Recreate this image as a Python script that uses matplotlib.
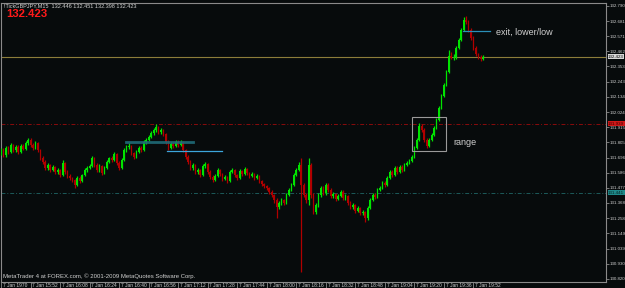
import matplotlib
matplotlib.use('Agg')
import matplotlib.pyplot as plt
from matplotlib.patches import Rectangle
import matplotlib.transforms as mtransforms
import numpy as np

plt.rcParams['font.family'] = ['Liberation Sans', 'DejaVu Sans']

# candles, one per index (open = previous close)
first_open = 131.729
closes = [
    131.751, 131.715, 131.765, 131.736, 131.787, 131.751, 131.772, 131.736, 131.780, 131.758,
    131.801, 131.823, 131.787, 131.765, 131.801, 131.751, 131.693, 131.664, 131.621, 131.643,
    131.606, 131.628, 131.592, 131.606, 131.570, 131.657, 131.592, 131.563, 131.549, 131.534,
    131.498, 131.549, 131.527, 131.570, 131.606, 131.621, 131.635, 131.693, 131.643, 131.606,
    131.635, 131.585, 131.621, 131.664, 131.693, 131.679, 131.722, 131.657, 131.621, 131.679,
    131.751, 131.772, 131.780, 131.729, 131.700, 131.736, 131.765, 131.751, 131.808, 131.823,
    131.845, 131.873, 131.895, 131.917, 131.881, 131.895, 131.866, 131.808, 131.765, 131.794,
    131.780, 131.808, 131.787, 131.808, 131.751, 131.700, 131.664, 131.621, 131.643, 131.592,
    131.606, 131.570, 131.635, 131.650, 131.592, 131.556, 131.534, 131.563, 131.606, 131.578,
    131.542, 131.556, 131.527, 131.592, 131.606, 131.570, 131.549, 131.599, 131.578, 131.614,
    131.585, 131.563, 131.578, 131.549, 131.563, 131.527, 131.505, 131.491, 131.477, 131.448,
    131.426, 131.390, 131.339, 131.368, 131.390, 131.368, 131.426, 131.462, 131.498, 131.570,
    131.606, 131.643, 131.498, 131.426, 131.390, 131.643, 131.426, 131.303, 131.354, 131.426,
    131.477, 131.441, 131.498, 131.462, 131.419, 131.433, 131.397, 131.419, 131.448, 131.404,
    131.419, 131.368, 131.339, 131.354, 131.311, 131.332, 131.296, 131.303, 131.260, 131.332,
    131.390, 131.426, 131.412, 131.462, 131.477, 131.513, 131.498, 131.549, 131.592, 131.570,
    131.621, 131.592, 131.628, 131.606, 131.643, 131.657, 131.671, 131.700, 131.765, 131.823,
    131.924, 131.895, 131.823, 131.780, 131.823, 131.859, 131.909, 131.967, 132.054, 132.140,
    132.220, 132.314, 132.429, 132.415, 132.422, 132.487, 132.544, 132.617, 132.689, 132.674,
    132.617, 132.559, 132.487, 132.443, 132.422, 132.407, 132.423]
highs = [
    131.765, 131.765, 131.780, 131.780, 131.801, 131.794, 131.787, 131.787, 131.794, 131.794,
    131.816, 131.837, 131.837, 131.801, 131.816, 131.808, 131.758, 131.707, 131.679, 131.657,
    131.650, 131.643, 131.635, 131.621, 131.614, 131.679, 131.664, 131.606, 131.578, 131.556,
    131.542, 131.563, 131.563, 131.578, 131.621, 131.635, 131.650, 131.707, 131.700, 131.657,
    131.650, 131.643, 131.635, 131.679, 131.700, 131.707, 131.736, 131.729, 131.671, 131.693,
    131.765, 131.787, 131.801, 131.787, 131.736, 131.751, 131.780, 131.780, 131.823, 131.837,
    131.859, 131.888, 131.909, 131.938, 131.924, 131.909, 131.902, 131.873, 131.823, 131.808,
    131.808, 131.823, 131.823, 131.823, 131.816, 131.758, 131.715, 131.679, 131.657, 131.650,
    131.621, 131.614, 131.650, 131.664, 131.657, 131.606, 131.570, 131.578, 131.621, 131.614,
    131.585, 131.570, 131.563, 131.606, 131.621, 131.614, 131.578, 131.614, 131.606, 131.628,
    131.621, 131.592, 131.592, 131.585, 131.578, 131.570, 131.534, 131.513, 131.498, 131.484,
    131.462, 131.433, 131.404, 131.383, 131.404, 131.397, 131.441, 131.477, 131.513, 131.585,
    131.621, 131.664, 131.693, 131.513, 131.441, 131.693, 131.657, 131.441, 131.368, 131.441,
    131.491, 131.491, 131.513, 131.513, 131.477, 131.448, 131.441, 131.433, 131.462, 131.462,
    131.433, 131.426, 131.383, 131.368, 131.361, 131.347, 131.339, 131.318, 131.311, 131.347,
    131.404, 131.441, 131.441, 131.477, 131.491, 131.527, 131.527, 131.563, 131.606, 131.606,
    131.635, 131.635, 131.643, 131.643, 131.657, 131.671, 131.686, 131.715, 131.780, 131.837,
    131.946, 131.938, 131.909, 131.837, 131.837, 131.873, 131.924, 131.982, 132.068, 132.155,
    132.234, 132.328, 132.472, 132.458, 132.443, 132.501, 132.559, 132.631, 132.710, 132.718,
    132.689, 132.631, 132.573, 132.501, 132.451, 132.436, 132.436]
lows = [
    131.715, 131.700, 131.700, 131.722, 131.729, 131.736, 131.736, 131.722, 131.729, 131.751,
    131.751, 131.787, 131.772, 131.751, 131.758, 131.736, 131.679, 131.650, 131.606, 131.606,
    131.592, 131.599, 131.578, 131.578, 131.556, 131.563, 131.578, 131.549, 131.534, 131.520,
    131.477, 131.491, 131.513, 131.520, 131.563, 131.592, 131.614, 131.628, 131.628, 131.592,
    131.592, 131.570, 131.578, 131.614, 131.657, 131.664, 131.671, 131.643, 131.606, 131.614,
    131.671, 131.736, 131.758, 131.715, 131.686, 131.693, 131.729, 131.736, 131.744, 131.794,
    131.816, 131.837, 131.859, 131.881, 131.866, 131.866, 131.852, 131.794, 131.751, 131.758,
    131.765, 131.772, 131.772, 131.780, 131.736, 131.686, 131.650, 131.606, 131.606, 131.578,
    131.578, 131.556, 131.563, 131.621, 131.578, 131.542, 131.520, 131.527, 131.556, 131.563,
    131.527, 131.534, 131.513, 131.520, 131.585, 131.556, 131.534, 131.542, 131.563, 131.570,
    131.570, 131.549, 131.556, 131.534, 131.542, 131.513, 131.491, 131.477, 131.462, 131.433,
    131.412, 131.368, 131.260, 131.325, 131.354, 131.354, 131.361, 131.419, 131.455, 131.491,
    131.563, 131.599, 130.871, 131.412, 131.368, 131.354, 131.404, 131.289, 131.289, 131.339,
    131.412, 131.426, 131.426, 131.448, 131.404, 131.404, 131.383, 131.390, 131.412, 131.390,
    131.390, 131.354, 131.325, 131.325, 131.296, 131.303, 131.282, 131.282, 131.231, 131.246,
    131.325, 131.383, 131.397, 131.404, 131.455, 131.469, 131.484, 131.491, 131.542, 131.556,
    131.563, 131.578, 131.585, 131.592, 131.599, 131.635, 131.650, 131.664, 131.693, 131.758,
    131.816, 131.881, 131.808, 131.765, 131.772, 131.816, 131.852, 131.902, 131.960, 132.047,
    132.133, 132.212, 132.306, 132.407, 132.400, 132.407, 132.479, 132.537, 132.609, 132.660,
    132.602, 132.544, 132.472, 132.429, 132.407, 132.393, 132.400]

time_labels = ['7 Jan 1970', '7 Jan 15:52', '7 Jan 16:08', '7 Jan 16:24', '7 Jan 16:40',
               '7 Jan 16:56', '7 Jan 17:12', '7 Jan 17:28', '7 Jan 17:44', '7 Jan 18:00',
               '7 Jan 18:16', '7 Jan 18:32', '7 Jan 18:48', '7 Jan 19:04', '7 Jan 19:20',
               '7 Jan 19:36', '7 Jan 19:52']
bars_per_label = 12
price_ticks = [132.790, 132.681, 132.571, 132.462, 132.353, 132.243, 132.134, 132.024,
               131.915, 131.805, 131.696, 131.586, 131.477, 131.368, 131.258, 131.149,
               131.039, 130.930, 130.820]

bid = 132.423
red_level = 131.939
teal_level = 131.441
header = '!TickGBPJPY,M15  132.446 132.451 132.398 132.423'

BG = '#070b0c'
UP = '#00e400'
DOWN = '#b00000'
FRAME = '#8a8a8a'
TXT = '#d0d0d0'
SMALL = 3.5
SCALE = 3.15

W, H = 625, 288
fig = plt.figure(figsize=(W / 100, H / 100), dpi=100, facecolor=BG)
ax = fig.add_axes([1 / W, 6 / H, 605 / W, 279 / H])
ax.set_facecolor(BG)

c = np.array(closes)
o = np.array([first_open] + closes[:-1])
hi = np.array(highs)
lo = np.array(lows)
idx = np.arange(len(c))
cols = np.where(c >= o, UP, DOWN)

ax.vlines(idx, lo, hi, colors=cols, linewidth=0.9, zorder=3)
body_low = np.minimum(o, c)
body_h = np.maximum(np.abs(c - o), 0.004)
ax.bar(idx, body_h, bottom=body_low, width=0.65, color=cols, linewidth=0, zorder=3)

# level lines
ax.axhline(bid, color='#8c7d3a', lw=0.8, zorder=2)
ax.axhline(red_level, color='#8a0c0c', lw=0.7, ls=(0, (4, 2, 1, 2)), zorder=2)
ax.axhline(teal_level, color='#1c5a5a', lw=0.7, ls=(0, (4, 2, 1, 2)), zorder=2)

# drawn objects
ax.plot([50.7, 77.9], [131.808, 131.808], color='#1f6b78', lw=2.0, alpha=0.9, zorder=4)
ax.plot([67.4, 89.7], [131.740, 131.740], color='#3ca6dc', lw=0.9, zorder=4)
ax.plot([187.9, 198.9], [132.606, 132.606], color='#2a8fb8', lw=0.9, zorder=4)
ax.text(201.3, 132.602, 'exit, lower/low', color=TXT, fontsize=6.5, va='center', ha='left')
ax.add_patch(Rectangle((167.2, 131.744), 13.8, 0.245, fill=False, ec='#9a9a9a', lw=0.8, zorder=4))
ax.text(183.8, 131.808, 'range', color=TXT, fontsize=6.5, va='center', ha='left')

ax.set_xlim(0.0, 245.9)
ax.set_ylim(130.798, 132.811)

for s in ax.spines.values():
    s.set_color(FRAME)
    s.set_linewidth(0.8)

ax.yaxis.set_ticks_position('right')
ax.set_yticks(price_ticks)
ax.set_yticklabels(['%.3f' % v for v in price_ticks])
ax.tick_params(axis='y', direction='out', length=2, width=0.6, colors=FRAME,
               labelcolor=TXT, labelsize=SCALE, pad=0.3)

# time scale: small marks with the label just right of them
ax.set_xticks(np.arange(len(time_labels)) * bars_per_label)
ax.set_xticklabels([])
ax.tick_params(axis='x', direction='out', length=5, width=0.6, colors=FRAME)
trx = mtransforms.blended_transform_factory(ax.transData, fig.transFigure)
nudge = mtransforms.ScaledTranslation(1.8 / 100, 0, fig.dpi_scale_trans)
for k, lab in enumerate(time_labels):
    fig.text(k * bars_per_label, 1 - 285.3 / H, lab, transform=trx + nudge, color=TXT,
             fontsize=SMALL, va='center', ha='left')

# price boxes on the scale
tr = mtransforms.blended_transform_factory(ax.transAxes, ax.transData)
box_kw = dict(transform=tr, fontsize=SCALE, va='center', ha='left', clip_on=False, zorder=6)
ax.text(1.0035, bid, '%.3f' % bid, color='#000000',
        bbox=dict(boxstyle='square,pad=0.12', fc='#d8d8d8', ec='none'), **box_kw)
ax.text(1.0035, red_level, '%.3f' % red_level, color='#300000',
        bbox=dict(boxstyle='square,pad=0.12', fc='#d01818', ec='none'), **box_kw)
ax.text(1.0035, teal_level, '%.3f' % teal_level, color='#062020',
        bbox=dict(boxstyle='square,pad=0.12', fc='#1f8a8a', ec='none'), **box_kw)

# header and footer texts
fig.text(4 / W, 1 - 5.5 / H, header, color=TXT, fontsize=4.0, va='center', ha='left')
fig.text(6 / W, 1 - 14 / H, '%.3f' % bid, color='#ff1a1a', fontsize=8.2,
         fontweight='bold', va='center', ha='left')
fig.text(3 / W, 1 - 276 / H, 'MetaTrader 4 at FOREX.com, \u00a9 2001-2009 MetaQuotes Software Corp.',
         color=TXT, fontsize=4.3, va='center', ha='left')

fig.savefig('out.png', dpi=100, facecolor=BG)
